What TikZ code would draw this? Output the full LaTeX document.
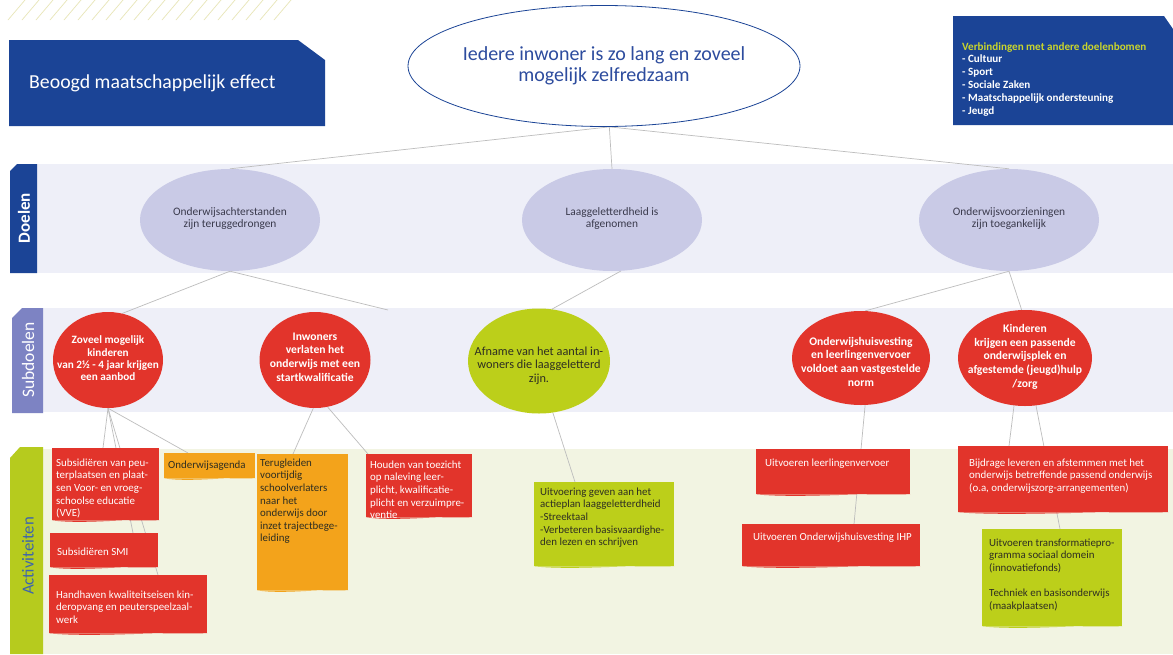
\documentclass[tikz,border=0pt]{standalone}
\usepackage{fontspec}
\setmainfont{Carlito}
\usetikzlibrary{shapes.geometric,calc}
\definecolor{dblue}{HTML}{1B4496}
\definecolor{tblue}{HTML}{2D4C9E}
\definecolor{ygreen}{HTML}{C9D52C}
\definecolor{lav}{HTML}{C9CAE6}
\definecolor{bandA}{HTML}{EEEFF8}
\definecolor{bandC}{HTML}{F2F4E2}
\definecolor{subst}{HTML}{7D83C3}
\definecolor{actst}{HTML}{B6CB1E}
\definecolor{acttx}{HTML}{3C64AE}
\definecolor{rred}{HTML}{E2342B}
\definecolor{lgreen}{HTML}{BCCF1A}
\definecolor{orng}{HTML}{F3A31B}
\definecolor{lgray}{HTML}{BDBDBD}
\definecolor{gtext}{HTML}{3A3A4C}
\definecolor{dtext}{HTML}{2E2E22}
\definecolor{hatchc}{HTML}{E8E6B8}
\pgfdeclarelayer{bg}\pgfdeclarelayer{lines}\pgfsetlayers{bg,lines,main}
\newcommand\ctext[2][0pt]{\smash{\makebox[0pt]{\raisebox{-#1}{\begin{tabular}{@{}c@{}}#2\end{tabular}}}}}
\newcommand\bt[5]{\parbox[c][#2pt][t]{#1pt}{\vspace*{#3pt}\hspace*{#4pt}\begin{tabular}[t]{@{}l@{}}#5\end{tabular}}}
\tikzset{
  conn/.style={draw=lgray, line width=0.7pt},
  hatch/.style={draw=hatchc, line width=0.7pt},
  goal/.style={ellipse, fill=lav, inner sep=0pt, minimum width=180pt, minimum height=102pt, text=gtext, font=\fontsize{11.4}{12}\selectfont},
  sub/.style={ellipse, fill=rred, inner sep=0pt, text=white, font=\bfseries\fontsize{11.6}{13.7}\selectfont},
  act/.style={anchor=north west, inner sep=0pt, font=\fontsize{10.9}{12.6}\selectfont},
  wavy/.style={append after command={\pgfextra{\begin{pgfinterruptpath}\fill[#1] (\tikzlastnode.south west) .. controls ($(\tikzlastnode.south west)!0.3!(\tikzlastnode.south east)+(0,4)$) and ($(\tikzlastnode.south west)!0.7!(\tikzlastnode.south east)+(0,-2)$) .. (\tikzlastnode.south east) -- cycle;\end{pgfinterruptpath}}}},
  redbox/.style={act, fill=rred, text=white, wavy=rred},
  orbox/.style={act, fill=orng, text=dtext, wavy=orng},
  grbox/.style={act, fill=lgreen, text=dtext, wavy=lgreen},
  striplabel/.style={rotate=90, inner sep=0pt}
}
\begin{document}
\begin{tikzpicture}[x=1pt,y=-1pt]
\useasboundingbox (0,0) rectangle (1173,654);
\begin{pgfonlayer}{bg}
  \fill[white] (0,0) rectangle (1173,654);
  \foreach \i in {0,...,19} \draw[hatch] (8+14*\i,20) -- (25+14*\i,0);
  \fill[bandA] (37,164) rectangle (1173,273);
  \fill[bandA] (43,308) rectangle (1173,412);
  \fill[bandC] (43,449) rectangle (1173,654);
  \fill[dblue] (10,171) -- (17,164) -- (37,164) -- (37,273) -- (10,273) -- cycle;
  \fill[subst] (12,318) -- (22,308) -- (43,308) -- (43,413) -- (12,413) -- cycle;
  \fill[actst] (10,458) -- (20,447) -- (43,447) -- (43,654) -- (10,654) -- cycle;
  \fill[dblue] (9,40) -- (298,40) -- (325,60) -- (325,126) -- (9,126) -- cycle;
  \fill[dblue] (953,16) -- (1164,16) -- (1173,29) -- (1173,125) -- (953,125) -- cycle;
\end{pgfonlayer}

% headers
\node[anchor=west, inner sep=0pt, text=white, font=\fontsize{19.8}{21}\selectfont] (effect) at (29,83) {Beoogd maatschappelijk effect};
\node[anchor=base west, inner sep=0pt, text=white, font=\bfseries\fontsize{11.1}{12.8}\selectfont] (links) at (962,50)
  {\begin{tabular}[t]{@{}l@{}}\textcolor{ygreen}{Verbindingen met andere doelenbomen}\\- Cultuur\\- Sport\\- Sociale Zaken\\- Maatschappelijk ondersteuning\\- Jeugd\end{tabular}};
\node[ellipse, draw=dblue, line width=0.8pt, fill=white, inner sep=0pt, minimum width=392pt, minimum height=121pt, text=tblue, font=\fontsize{20}{20.5}\selectfont] (top) at (604,66)
  {\ctext[6pt]{Iedere inwoner is zo lang en zoveel\\mogelijk zelfredzaam}};

% strip labels
\node[striplabel, text=white, font=\bfseries\fontsize{17}{17}\selectfont] (ldoel) at (24,218) {Doelen};
\node[striplabel, text=white, font=\fontsize{17.5}{17.5}\selectfont] (lsub) at (28,360) {Subdoelen};
\node[striplabel, text=acttx, font=\fontsize{16.8}{16.8}\selectfont] (lact) at (28,556) {Activiteiten};

% doelen
\node[goal] (e1) at (230,220) {\ctext[1.5pt]{Onderwijsachterstanden\\zijn teruggedrongen}};
\node[goal] (e2) at (612,220) {\ctext[1.5pt]{Laaggeletterdheid is\\afgenomen}};
\node[goal] (e3) at (1009,220) {\ctext[1.5pt]{Onderwijsvoorzieningen\\zijn toegankelijk}};

% subdoelen
\node[sub, minimum width=110pt, minimum height=96pt, font=\bfseries\fontsize{11.2}{12.3}\selectfont] (s1) at (108,360) {\ctext[2.7pt]{Zoveel mogelijk\\kinderen\\van 2½ - 4 jaar krijgen\\een aanbod}};
\node[sub, minimum width=111pt, minimum height=96pt] (s2) at (315,360) {\ctext[1pt]{Inwoners\\verlaten het\\onderwijs met een\\startkwalificatie}};
\node[sub, fill=lgreen, text=dtext, minimum width=142pt, minimum height=105pt, font=\fontsize{12.3}{13.5}\selectfont] (s3) at (539,361) {\ctext[8pt]{Afname van het aantal in-\\woners die laaggeletterd\\zijn.}};
\node[sub, minimum width=138pt, minimum height=94pt] (s4) at (861,358) {\ctext[8pt]{Onderwijshuisvesting\\en leerlingenvervoer\\voldoet aan vastgestelde\\norm}};
\node[sub, minimum width=134pt, minimum height=96pt] (s5) at (1025,358) {\ctext[2pt]{Kinderen\\krijgen een passende\\onderwijsplek en\\afgestemde (jeugd)hulp\\/zorg}};

% activiteiten
\node[redbox] (a1) at (52,448) {\bt{107}{72}{9.2}{4}{Subsidiëren van peu-\\terplaatsen en plaat-\\sen Voor- en vroeg-\\schoolse educatie\\(VVE)}};
\node[orbox] (a2) at (164,453) {\bt{91}{25}{6.2}{4}{Onderwijsagenda}};
\node[redbox] (a3) at (50,533) {\bt{108}{34}{13.2}{7}{Subsidiëren SMI}};
\node[redbox] (a4) at (49,575) {\bt{158}{58}{14.2}{7}{Handhaven kwaliteitseisen kin-\\deropvang en peuterspeelzaal-\\werk}};
\node[orbox] (a5) at (257,454) {\bt{91}{136}{3.2}{3}{Terugleiden\\voortijdig\\schoolverlaters\\naar het\\onderwijs door\\inzet trajectbege-\\leiding}};
\node[redbox] (a6) at (366,454) {\bt{106}{63}{5.2}{4}{Houden van toezicht\\op naleving leer-\\plicht, kwalificatie-\\plicht en verzuimpre-\\ventie}};
\node[grbox] (a7) at (534,482) {\bt{140}{84}{4.2}{6}{Uitvoering geven aan het\\actieplan laaggeletterdheid\\-Streektaal\\-Verbeteren basisvaardighe-\\den lezen en schrijven}};
\node[redbox] (a8) at (756,449) {\bt{154}{45}{8.2}{9}{Uitvoeren leerlingenvervoer}};
\node[redbox] (a9) at (742,524) {\bt{178}{42}{7.2}{11}{Uitvoeren Onderwijshuisvesting IHP}};
\node[redbox] (a10) at (958,446) {\bt{210}{66}{11.2}{11}{Bijdrage leveren en afstemmen met het\\onderwijs betreffende passend onderwijs\\(o.a, onderwijszorg-arrangementen)}};
\node[grbox] (a11) at (982,529) {\bt{140}{97}{8.2}{7}{Uitvoeren transformatiepro-\\gramma sociaal domein\\(innovatiefonds)\\ \\Techniek en basisonderwijs\\(maakplaatsen)}};

\coordinate (free) at (388,310);

\begin{pgfonlayer}{lines}
  \draw[conn] (top.275) -- (e1.north);
  \draw[conn] (top.275) -- (e2.north);
  \draw[conn] (top.275) -- (e3.north);
  \draw[conn] (e1.south) -- (s1.73);
  \draw[conn] (e1.south) -- (free);
  \draw[conn] (e2.280) -- (s3.76);
  \draw[conn] (e3.south) -- (s4.85);
  \draw[conn] (e3.south) -- (s5.94);
  \draw[conn] (s1.south) -- ($(a1.north west)+(51,0)$);
  \draw[conn] (s1.south) -- ($(a3.north west)+(83,0)$);
  \draw[conn] (s1.south) -- ($(a4.north west)+(109,0)$);
  \draw[conn] (s1.south) -- ($(a2.north west)+(24,0)$);
  \draw[conn] (s2.268) -- ($(a5.north west)+(36,0)$);
  \draw[conn] (s2.285) -- ($(a6.north west)+(2,0)$);
  \draw[conn] (s3.285) -- ($(a7.north west)+(41,0)$);
  \draw[conn] (s4.275) -- ($(a9.north west)+(112,0)$);
  \draw[conn] (s5.257) -- ($(a10.north west)+(51,0)$);
  \draw[conn] (s5.283) -- ($(a11.north west)+(78,0)$);
\end{pgfonlayer}
\end{tikzpicture}
\end{document}
